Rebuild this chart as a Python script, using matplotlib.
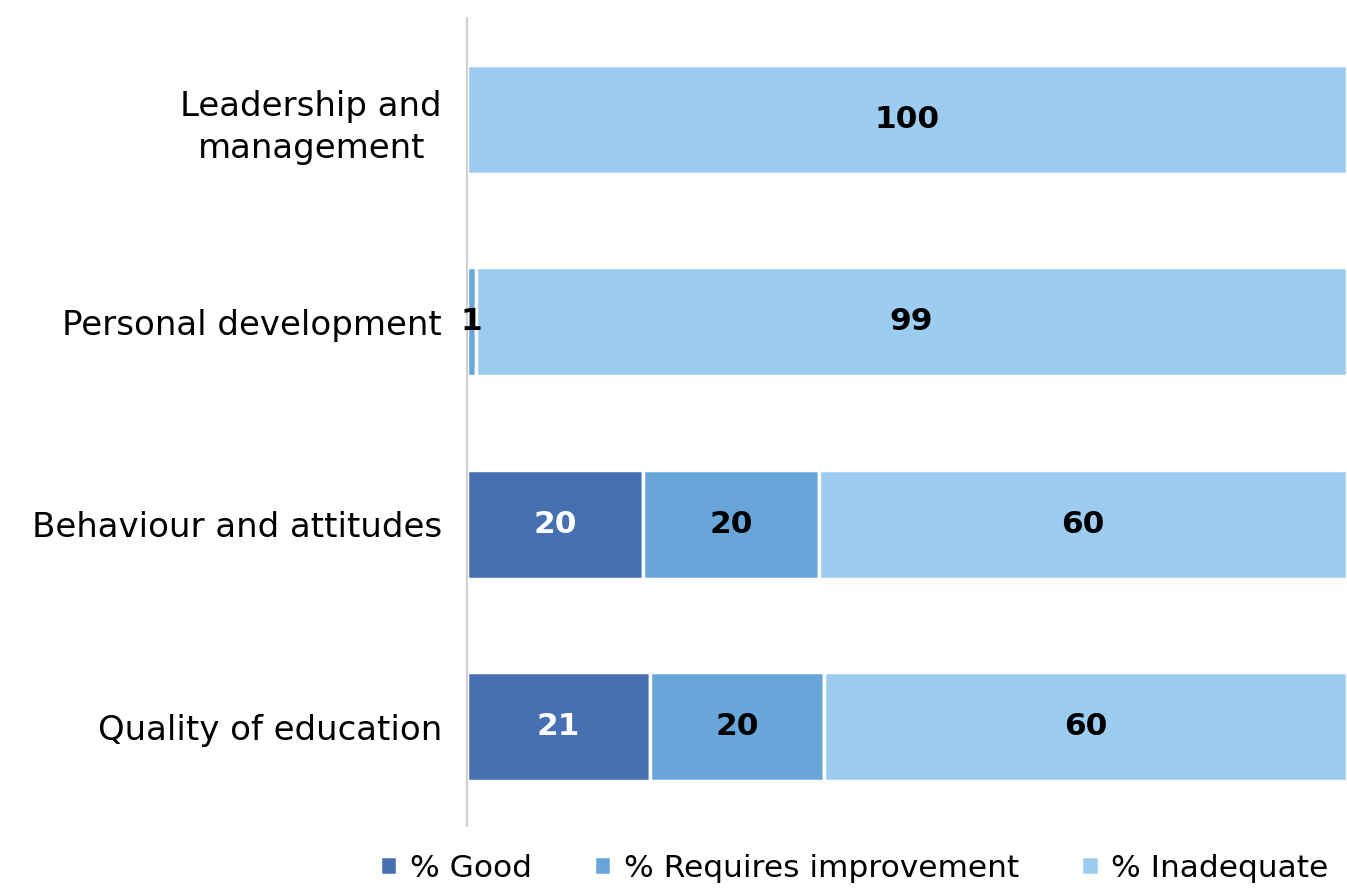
import matplotlib.pyplot as plt
import numpy as np

categories = ['Quality of education', 'Behaviour and attitudes',
              'Personal development', 'Leadership and\nmanagement']
good = [21, 20, 0, 0]
requires = [20, 20, 1, 0]
inadequate = [60, 60, 99, 100]
series_names = ['% Good', '% Requires improvement', '% Inadequate']
colors = ['#4670B1', '#68A6DA', '#9CCCF0']
text_colors = ['white', 'black', 'black']

data = np.array([good, requires, inadequate], dtype=float)
pct = data / data.sum(axis=0) * 100

fig = plt.figure(figsize=(13.47, 8.93), dpi=100)
ax = fig.add_axes([467 / 1347, 1 - 826 / 893, 880 / 1347, 808 / 893])

y = np.arange(len(categories))
left = np.zeros(len(categories))
for i in range(3):
    bars = ax.barh(y, pct[i], left=left, height=0.54, color=colors[i],
                   edgecolor='white', linewidth=2.5, label=series_names[i])
    for j, b in enumerate(bars):
        if data[i][j] > 0:
            ax.text(left[j] + pct[i][j] / 2, y[j], '%d' % data[i][j],
                    ha='center', va='center', fontsize=22.5, fontweight='bold',
                    color=text_colors[i])
    left += pct[i]

ax.set_xlim(0, 100)
ax.set_ylim(-0.49, 3.5)
ax.set_yticks(y)
ax.set_yticklabels(categories, fontsize=24.5, multialignment='center',
                   linespacing=1.35)
ax.tick_params(axis='y', length=0, pad=18)
ax.set_xticks([])
for s in ['top', 'right', 'bottom']:
    ax.spines[s].set_visible(False)
ax.spines['left'].set_color('#d0d0d0')
ax.spines['left'].set_linewidth(1.5)

ax.legend(loc='lower center', bbox_to_anchor=(0.44, -0.105), ncol=3,
          frameon=False, fontsize=22.5, handlelength=0.55, handleheight=0.55,
          handletextpad=0.4, columnspacing=2.0)

fig.savefig('out.png', dpi=100)
